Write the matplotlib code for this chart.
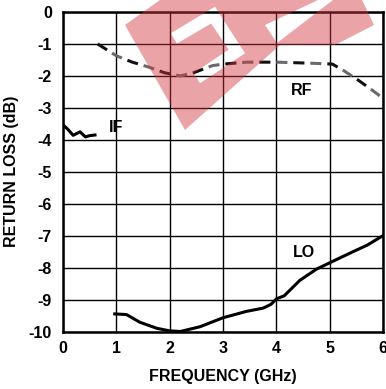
import matplotlib
matplotlib.use("Agg")
import matplotlib.pyplot as plt
from matplotlib.path import Path
from matplotlib.patches import PathPatch

plt.rcParams['font.family'] = ['Liberation Sans', 'DejaVu Sans']
plt.rcParams['font.weight'] = 'bold'
plt.rcParams['lines.scale_dashes'] = False

# ---- data ----
x_ticks = [0, 1, 2, 3, 4, 5, 6]
y_ticks = [0, -1, -2, -3, -4, -5, -6, -7, -8, -9, -10]

rf_x = [0.65, 1.0, 1.3, 1.6, 1.9, 2.2, 2.45, 2.8, 3.0, 3.45, 4.0, 4.6, 5.05, 5.25, 5.55, 5.8, 6.0]
rf_y = [-1.0, -1.37, -1.57, -1.72, -1.9, -2.0, -1.9, -1.68, -1.63, -1.57, -1.57, -1.6, -1.63, -1.82, -2.15, -2.45, -2.7]

if_x = [0.0, 0.09, 0.19, 0.32, 0.42, 0.5, 0.6]
if_y = [-3.53, -3.67, -3.86, -3.75, -3.91, -3.87, -3.85]

lo_x = [0.97, 1.19, 1.44, 1.76, 2.0, 2.2, 2.57, 3.0, 3.44, 3.75, 3.9, 4.0, 4.15, 4.44, 4.75, 5.0, 5.44, 5.7, 6.0]
lo_y = [-9.45, -9.47, -9.71, -9.9, -9.98, -10.0, -9.85, -9.57, -9.37, -9.27, -9.15, -8.98, -8.88, -8.4, -8.05, -7.85, -7.5, -7.3, -7.0]

labels = ["IF", "RF", "LO"]
label_x = [1.0, 4.47, 4.51]
label_y = [-3.6, -2.45, -7.52]

FS = 11.5
W, H = 386, 389
fig = plt.figure(figsize=(W / 100, H / 100), dpi=100)
ax = fig.add_axes([63 / W, 1 - 331.5 / H, (383 - 63) / W, (331.5 - 12) / H])

ax.set_xlim(0, 6)
ax.set_ylim(-10, 0)
ax.set_xticks(x_ticks)
ax.set_yticks(y_ticks)
ax.set_xticklabels([str(v) for v in x_ticks])
ax.set_yticklabels([str(v) for v in y_ticks])
ax.tick_params(length=0, labelsize=FS)
ax.tick_params(axis='x', pad=7)
ax.tick_params(axis='y', pad=8)
ax.grid(True, color='black', linewidth=1.0)
ax.set_axisbelow(True)
for s in ax.spines.values():
    s.set_linewidth(1.8)

# RF dashed: alternating dark and gray dashes
ax.plot(rf_x, rf_y, color='#111111', linewidth=2.2, linestyle=(0, (8.0, 16.5)))
ax.plot(rf_x, rf_y, color='#6a6a6a', linewidth=2.2, linestyle=(12.25, (8.0, 16.5)))

ax.plot(if_x, if_y, color='black', linewidth=2.2)
ax.plot(lo_x, lo_y, color='black', linewidth=2.2)

for t, lx, ly in zip(labels, label_x, label_y):
    ax.text(lx, ly, t, fontsize=FS, fontweight='bold', ha='center', va='center')

ax.set_xlabel("FREQUENCY (GHz)", fontsize=FS, fontweight='bold', labelpad=9)
ax.set_ylabel("RETURN LOSS (dB)", fontsize=FS, fontweight='bold', labelpad=7)

# ---- watermark (decorative logo band) ----
def fp(pts):
    return [(x / W, 1 - y / H) for x, y in pts]

def area(pts):
    s = 0.0
    for i in range(len(pts)):
        x1, y1 = pts[i]
        x2, y2 = pts[(i + 1) % len(pts)]
        s += x1 * y2 - x2 * y1
    return s / 2

outer = [(125, 25), (160, 0), (362, 0), (374, 25), (335, 45), (280, 45), (185, 130)]
bracket = [(170.7, 33.3), (215, 6.7), (245, 53.3), (200, 83.3), (193.8, 73), (228.7, 49.5), (211.1, 23.5), (176.9, 43.6)]
bar = [(265, 25), (318, 0), (333, 0), (277, 43)]

verts, codes = [], []
sign_outer = area(outer) > 0
for i, poly in enumerate((outer, bracket, bar)):
    p = list(poly)
    if i > 0 and (area(p) > 0) == sign_outer:
        p = p[::-1]
    p = fp(p)
    verts += p + [p[0]]
    codes += [Path.MOVETO] + [Path.LINETO] * (len(p) - 1) + [Path.CLOSEPOLY]
path = Path(verts, codes)
patch = PathPatch(path, facecolor=(0.82, 0.2, 0.24), edgecolor='none', alpha=0.45,
                  transform=fig.transFigure, zorder=10)
fig.patches.append(patch)

fig.savefig("out.png", dpi=100)
